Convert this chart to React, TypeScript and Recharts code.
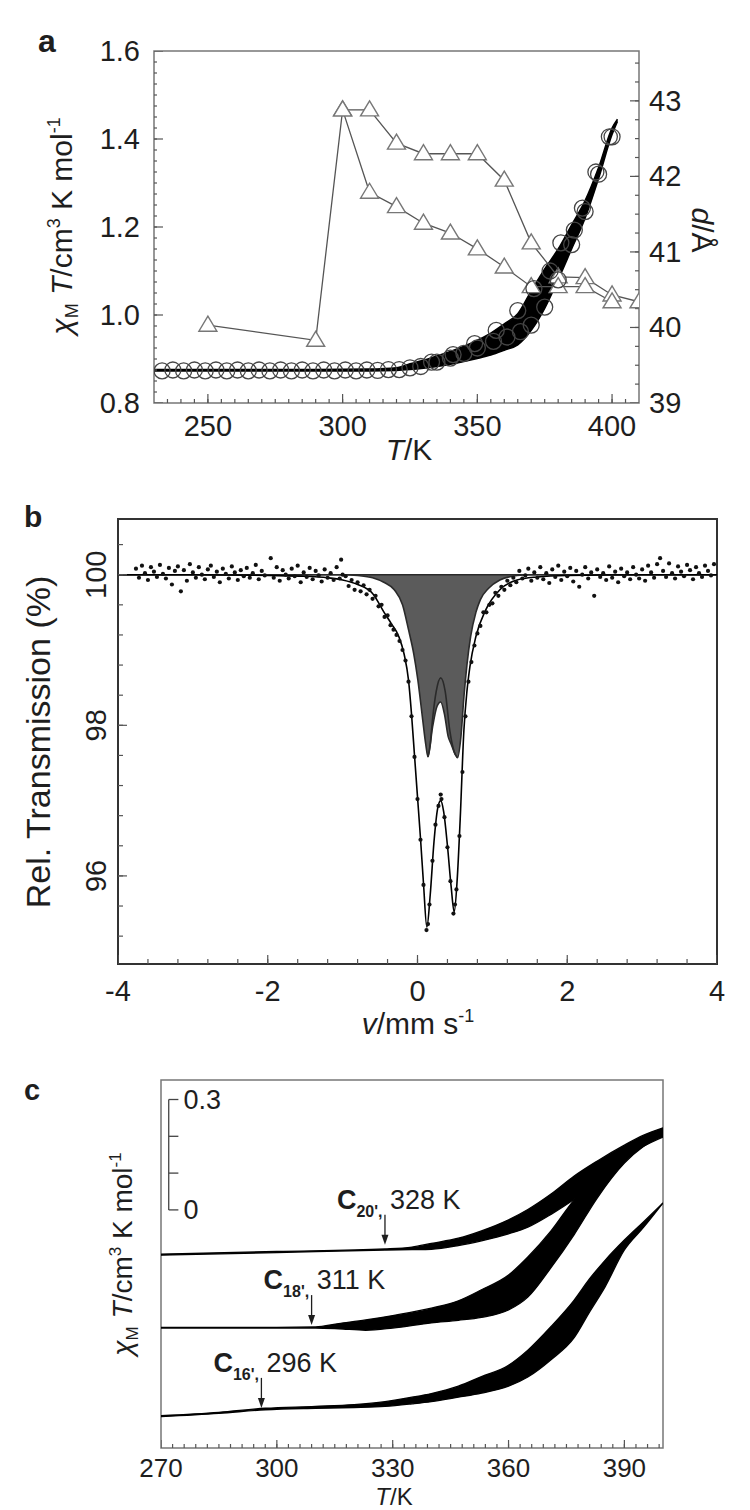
import React from 'react';
import {
  ComposedChart,
  Line,
  Area,
  Scatter,
  XAxis,
  YAxis,
  ReferenceArea,
  ReferenceLine,
} from 'recharts';

const FONT = '"Liberation Sans", Arial, Helvetica, sans-serif';
const INK = '#1e1e1e';

// ---------- panel a ----------
const aXTicks = [250, 300, 350, 400];
const aLTicks = [0.8, 1.0, 1.2, 1.4, 1.6];
const aRTicks = [39, 40, 41, 42, 43];

// d-spacing (right axis): the 300 K jump splits into two branches
const dUpT = [250, 290, 300, 310, 320, 330, 340, 350, 360, 370, 380, 390, 400, 410];
const dUp = [40.03, 39.83, 42.88, 42.88, 42.44, 42.3, 42.3, 42.3, 41.95, 41.12, 40.67, 40.66, 40.43, 40.34];
const dLowT = [300, 310, 320, 330, 340, 350, 360, 370, 380, 390, 400];
const dLow = [42.88, 41.79, 41.6, 41.38, 41.25, 41.04, 40.8, 40.54, 40.54, 40.54, 40.34];

// chi_M T open circles (left axis)
const chiAT = [233, 241, 249, 257, 265, 273, 281, 289, 297, 305, 313, 321, 329, 335, 340, 345, 350, 356, 361, 366, 370, 375, 380, 385, 390, 395, 400];
const chiA = [0.873, 0.873, 0.873, 0.873, 0.873, 0.873, 0.873, 0.873, 0.873, 0.873, 0.874, 0.876, 0.883, 0.893, 0.902, 0.913, 0.925, 0.94, 0.95, 0.962, 0.977, 1.018, 1.08, 1.16, 1.235, 1.32, 1.405];
const chiBT = [237, 245, 253, 261, 269, 277, 285, 293, 301, 309, 317, 325, 333, 341, 349, 357, 365, 371, 377, 381, 386, 389, 394, 399];
const chiB = [0.875, 0.875, 0.875, 0.875, 0.875, 0.875, 0.875, 0.875, 0.875, 0.875, 0.876, 0.88, 0.893, 0.91, 0.935, 0.965, 1.01, 1.06, 1.1, 1.164, 1.193, 1.243, 1.325, 1.405];

// dense sweep, drawn as a filled band
const bandT = [230, 250, 270, 290, 310, 320, 325, 330, 335, 340, 345, 350, 355, 360, 365, 370, 375, 380, 385, 390, 395, 400, 402];
const bandLo = [0.873, 0.873, 0.873, 0.873, 0.873, 0.874, 0.876, 0.879, 0.883, 0.888, 0.894, 0.901, 0.909, 0.92, 0.932, 0.965, 1.015, 1.08, 1.15, 1.22, 1.31, 1.41, 1.44];
const bandHi = [0.876, 0.876, 0.876, 0.876, 0.877, 0.88, 0.889, 0.897, 0.907, 0.917, 0.929, 0.943, 0.959, 0.98, 1.003, 1.055, 1.105, 1.15, 1.205, 1.26, 1.335, 1.425, 1.445];

// ---------- panel b ----------
const bXTicks = [-4, -2, 0, 2, 4];
const bYTicks = [96, 98, 100];

const fitV = [-4, -3, -2, -1.5, -1.2, -1.0, -0.8, -0.6, -0.44, -0.35, -0.25, -0.18, -0.12, -0.08, -0.04, 0, 0.04, 0.08, 0.125, 0.17, 0.22, 0.27, 0.31, 0.35, 0.4, 0.45, 0.49, 0.53, 0.57, 0.62, 0.66, 0.7, 0.78, 0.91, 1.1, 1.33, 1.6, 2, 3, 4];
const fit = [100, 100, 99.99, 99.98, 99.96, 99.93, 99.87, 99.75, 99.49, 99.35, 99.18, 98.95, 98.6, 98.15, 97.6, 97.05, 96.5, 95.9, 95.32, 95.75, 96.45, 96.9, 97.0, 96.85, 96.4, 95.85, 95.52, 95.95, 96.75, 97.94, 98.45, 98.78, 99.18, 99.53, 99.8, 99.93, 99.97, 99.99, 100, 100];

// shaded sub-spectrum (its lower edge)
const subV = [-4, -1.0, -0.8, -0.6, -0.45, -0.31, -0.2, -0.12, -0.05, 0.005, 0.07, 0.11, 0.14, 0.2, 0.26, 0.31, 0.36, 0.41, 0.45, 0.5, 0.535, 0.58, 0.62, 0.66, 0.71, 0.78, 0.84, 0.95, 1.1, 1.33, 1.5, 4];
const sub = [100, 100, 99.99, 99.96, 99.9, 99.8, 99.6, 99.27, 98.95, 98.6, 98.07, 97.75, 97.58, 97.97, 98.25, 98.31, 98.15, 97.85, 97.75, 97.62, 97.57, 97.85, 98.38, 98.8, 99.18, 99.5, 99.67, 99.82, 99.93, 99.99, 100, 100];

// second sub-spectrum outline drawn across the shading
const sub2V = [0.14, 0.17, 0.2, 0.25, 0.31, 0.37, 0.43, 0.49, 0.535];
const sub2 = [97.58, 97.75, 98.07, 98.45, 98.63, 98.45, 97.94, 97.65, 97.57];

const spectrum: [number, number][] = [
  [-3.76, 100.08], [-3.72, 99.96], [-3.68, 100.12], [-3.64, 100.02], [-3.6, 99.93], [-3.56, 100.1], [-3.52, 100.04], [-3.48, 99.97],
  [-3.44, 100.13], [-3.4, 100.01], [-3.36, 99.95], [-3.32, 100.09], [-3.28, 99.87], [-3.24, 100.05], [-3.2, 100.11], [-3.16, 99.78],
  [-3.12, 100.06], [-3.08, 99.92], [-3.04, 100.14], [-3.0, 100.03], [-2.96, 99.96], [-2.92, 100.1], [-2.88, 100.0], [-2.84, 99.94],
  [-2.8, 100.07], [-2.76, 100.12], [-2.72, 99.97], [-2.68, 100.04], [-2.64, 99.9], [-2.6, 100.08], [-2.56, 100.01], [-2.52, 99.95],
  [-2.48, 100.11], [-2.44, 100.03], [-2.4, 99.93], [-2.36, 100.06], [-2.32, 99.98], [-2.28, 100.09], [-2.24, 99.96], [-2.2, 100.02],
  [-2.16, 100.13], [-2.12, 99.94], [-2.08, 100.05], [-2.04, 99.99], [-1.96, 100.22], [-1.92, 99.96], [-1.88, 100.1], [-1.84, 99.92],
  [-1.8, 100.06], [-1.76, 100.0], [-1.72, 99.95], [-1.68, 100.08], [-1.64, 99.98], [-1.6, 100.12], [-1.56, 99.9], [-1.52, 100.03],
  [-1.48, 99.97], [-1.44, 100.09], [-1.4, 99.94], [-1.36, 100.05], [-1.32, 99.99], [-1.28, 99.91], [-1.24, 100.07], [-1.2, 99.96],
  [-1.16, 100.02], [-1.12, 99.93], [-1.08, 100.1], [-1.04, 99.95], [-1.02, 100.2], [-1.0, 100.0],
  [-0.96, 99.98], [-0.92, 99.85], [-0.88, 99.93], [-0.84, 99.8], [-0.8, 99.9], [-0.76, 99.78], [-0.72, 99.86], [-0.68, 99.74],
  [-0.64, 99.8], [-0.6, 99.68], [-0.56, 99.72], [-0.52, 99.58], [-0.48, 99.6], [-0.44, 99.44], [-0.4, 99.46], [-0.36, 99.33],
  [-0.32, 99.27], [-0.28, 99.2], [-0.24, 99.12], [-0.2, 99.0], [-0.16, 98.86], [-0.12, 98.58], [-0.08, 98.12], [-0.04, 97.58],
  [0, 97.02], [0.04, 96.48], [0.08, 95.88], [0.12, 95.28], [0.14, 95.36], [0.16, 95.62], [0.2, 96.2], [0.24, 96.68],
  [0.28, 96.93], [0.31, 97.08], [0.32, 97.02], [0.36, 96.78], [0.4, 96.38], [0.44, 95.93], [0.48, 95.5], [0.5, 95.62],
  [0.52, 95.82], [0.56, 96.53], [0.6, 97.38], [0.64, 98.12], [0.68, 98.58], [0.72, 98.84], [0.76, 99.06], [0.8, 99.22],
  [0.84, 99.32], [0.88, 99.5], [0.92, 99.5], [0.96, 99.6], [1.0, 99.62], [1.04, 99.76], [1.08, 99.72], [1.12, 99.84],
  [1.16, 99.8], [1.2, 99.92], [1.24, 99.86], [1.28, 99.96],
  [1.32, 99.9], [1.36, 100.05], [1.4, 99.95], [1.44, 99.99], [1.48, 100.08], [1.52, 99.92], [1.56, 100.03], [1.6, 99.96],
  [1.64, 100.1], [1.68, 99.94], [1.72, 100.02], [1.76, 99.89], [1.8, 100.07], [1.84, 99.97], [1.88, 100.12], [1.92, 99.93],
  [1.96, 100.04], [2.0, 99.98], [2.04, 100.09], [2.08, 99.91], [2.12, 100.05], [2.16, 99.84], [2.2, 100.0], [2.24, 100.1],
  [2.28, 99.95], [2.32, 100.03], [2.36, 99.72], [2.4, 100.07], [2.44, 99.97], [2.48, 100.02], [2.52, 99.93], [2.56, 100.11],
  [2.6, 99.96], [2.64, 100.04], [2.68, 99.9], [2.72, 100.08], [2.76, 99.98], [2.8, 100.03], [2.84, 99.94], [2.88, 100.1],
  [2.92, 100.0], [2.96, 99.95], [3.0, 100.07], [3.04, 99.92], [3.08, 100.12], [3.12, 100.03], [3.16, 99.96], [3.2, 100.14],
  [3.24, 100.22], [3.28, 100.05], [3.32, 99.97], [3.36, 100.15], [3.4, 100.02], [3.44, 99.95], [3.48, 100.11], [3.52, 100.04],
  [3.56, 99.98], [3.6, 100.13], [3.64, 100.06], [3.68, 99.94], [3.72, 100.1], [3.76, 100.02], [3.8, 99.97], [3.84, 100.12],
  [3.88, 100.05], [3.92, 99.99], [3.96, 100.14],
];

// ---------- panel c ----------
const cXTicks = [270, 300, 330, 360, 390];

const c20T = [270, 300, 328, 335, 340, 347, 353, 360, 365, 371, 377, 383, 390, 395, 400];
const c20Lo = [0.524, 0.531, 0.538, 0.539, 0.54, 0.55, 0.563, 0.582, 0.6, 0.635, 0.676, 0.725, 0.785, 0.82, 0.845];
const c20Hi = [0.527, 0.534, 0.541, 0.546, 0.556, 0.57, 0.59, 0.62, 0.648, 0.69, 0.739, 0.78, 0.823, 0.85, 0.87];

const c18T = [270, 300, 310, 316, 323, 330, 340, 347, 353, 360, 365, 371, 377, 383, 390, 395, 400];
const c18Lo = [0.326, 0.326, 0.326, 0.324, 0.32, 0.326, 0.34, 0.347, 0.355, 0.375, 0.41, 0.49, 0.58, 0.68, 0.774, 0.82, 0.85];
const c18Hi = [0.328, 0.328, 0.329, 0.338, 0.348, 0.36, 0.38, 0.4, 0.43, 0.47, 0.519, 0.59, 0.674, 0.735, 0.79, 0.825, 0.856];

const c16T = [270, 285, 297, 310, 320, 328, 335, 340, 347, 353, 360, 365, 371, 377, 381, 385, 390, 395, 400];
const c16Lo = [0.085, 0.094, 0.104, 0.108, 0.11, 0.113, 0.12, 0.126, 0.138, 0.149, 0.168, 0.193, 0.24, 0.3, 0.37, 0.438, 0.538, 0.6, 0.666];
const c16Hi = [0.088, 0.097, 0.108, 0.113, 0.118, 0.126, 0.138, 0.148, 0.168, 0.194, 0.225, 0.266, 0.33, 0.402, 0.46, 0.51, 0.565, 0.615, 0.666];

const calloutT = [328, 309, 296];
const calloutY = [0.552, 0.334, 0.109];
const calloutSub = ["20',", "18',", "16',"];
const calloutK = [328, 311, 296];

const scaleTicks = [0.647, 0.747, 0.847, 0.947];

// ---------- helpers ----------
const zip = (xs: number[], ys: number[]) => xs.map((x, i) => ({ x, y: ys[i] }));
const zipRange = (xs: number[], lo: number[], hi: number[]) => xs.map((x, i) => ({ x, r: [lo[i], hi[i]] }));
const steps = (a: number, b: number, s: number) => {
  const out: number[] = [];
  for (let v = a; v <= b + 1e-9; v += s) out.push(+v.toFixed(4));
  return out;
};
// tick positions along an edge of the frame, as points for a Scatter
const alongX = (ticks: number[], y: number) => ticks.map((x) => ({ x, y }));
const alongY = (ticks: number[], x: number) => ticks.map((y) => ({ x, y }));

const tickLabel =
  (fs: number, anchor: 'start' | 'middle' | 'end', dy: number, rotate = 0, fmt?: (v: number) => string) =>
  (p: any) => {
    const v = fmt ? fmt(p.payload.value) : String(p.payload.value);
    return (
      <text
        transform={`translate(${p.x},${p.y})${rotate ? ` rotate(${rotate})` : ''}`}
        textAnchor={anchor}
        dy={dy}
        fontSize={fs}
        fontFamily={FONT}
        fill={INK}
      >
        {v}
      </text>
    );
  };

const tickMark = (dx: number, dy: number) => (p: any) => (
  <line x1={p.cx} y1={p.cy} x2={p.cx + dx} y2={p.cy + dy} stroke="#555" strokeWidth={1.2} />
);

const OpenCircle = (p: any) => (
  <circle cx={p.cx} cy={p.cy} r={8} fill="none" stroke="#454545" strokeWidth={1.3} />
);
const Dot = (p: any) => <circle cx={p.cx} cy={p.cy} r={2.1} fill="#111" />;
const Tri = (p: any) => {
  if (p.cx == null || p.cy == null) return <g key={p.key} />;
  return (
    <path
      key={p.key}
      d={`M${p.cx},${p.cy - 9} L${p.cx + 9},${p.cy + 6} L${p.cx - 9},${p.cy + 6} Z`}
      fill="#fff"
      stroke="#777"
      strokeWidth={1.4}
    />
  );
};
const Callout = (p: any) => {
  const { cx, cy, payload } = p;
  return (
    <g>
      <line x1={cx} y1={cy - 30} x2={cx} y2={cy - 7} stroke={INK} strokeWidth={1.3} />
      <path d={`M${cx - 3.5},${cy - 10} L${cx + 3.5},${cy - 10} L${cx},${cy} Z`} fill={INK} />
      <text x={cx - 48} y={cy - 36} fontFamily={FONT} fontSize={27} fill={INK}>
        <tspan fontWeight="bold">C</tspan>
        <tspan fontWeight="bold" fontSize={16} dy={8}>{payload.sub}</tspan>
        <tspan dy={-8}> {payload.k} K</tspan>
      </text>
    </g>
  );
};

const ticksSeries = (data: { x: number; y: number }[], shape: any, yAxisId?: string) => (
  <Scatter yAxisId={yAxisId} data={data} dataKey="y" shape={shape} isAnimationActive={false} />
);

const overlay: React.CSSProperties = { position: 'absolute', left: 0, top: 0, pointerEvents: 'none', overflow: 'visible' };

// ---------- panels ----------
const PanelA = () => {
  const xd = [230, 410];
  const ld = [0.8, 1.6];
  const rd = [39, 43.66];
  return (
    <div style={{ position: 'absolute', left: 0, top: 0, width: 750, height: 480 }}>
      <ComposedChart width={750} height={480} margin={{ top: 51, right: 51, bottom: 37, left: 94 }}>
        <XAxis type="number" dataKey="x" domain={xd} allowDataOverflow ticks={aXTicks} interval={0} height={40}
          axisLine={false} tickLine={false} tickSize={0} tickMargin={12} tick={tickLabel(29, 'middle', 21)} />
        <YAxis yAxisId="L" type="number" domain={ld} allowDataOverflow ticks={aLTicks} interval={0} width={60}
          axisLine={false} tickLine={false} tickSize={0} tickMargin={14}
          tick={tickLabel(29, 'end', 10, 0, (v) => v.toFixed(1))} />
        <YAxis yAxisId="R" orientation="right" type="number" domain={rd} allowDataOverflow ticks={aRTicks} interval={0}
          width={60} axisLine={false} tickLine={false} tickSize={0} tickMargin={10} tick={tickLabel(29, 'start', 10)} />
        <ReferenceArea yAxisId="L" x1={230} x2={410} y1={0.8} y2={1.6} fill="none" stroke="#777" strokeWidth={1.5} ifOverflow="visible" />
        {ticksSeries(alongX(steps(235, 405, 5), 0.8), tickMark(0, -4), 'L')}
        {ticksSeries(alongX(aXTicks, 0.8), tickMark(0, -9), 'L')}
        {ticksSeries(alongY(steps(0.825, 1.575, 0.025), 230), tickMark(3, 0), 'L')}
        {ticksSeries(alongY(aLTicks, 230), tickMark(9, 0), 'L')}
        {ticksSeries(alongY(steps(39.25, 43.5, 0.25), 410), tickMark(-4, 0), 'R')}
        {ticksSeries(alongY(aRTicks, 410), tickMark(-9, 0), 'R')}
        <Line yAxisId="R" data={zip(dUpT, dUp)} dataKey="y" type="linear" stroke="#555" strokeWidth={1.3} dot={Tri} isAnimationActive={false} />
        <Line yAxisId="R" data={zip(dLowT, dLow)} dataKey="y" type="linear" stroke="#555" strokeWidth={1.3} dot={Tri} isAnimationActive={false} />
        <Scatter yAxisId="L" data={zip(chiAT, chiA)} dataKey="y" shape={OpenCircle} isAnimationActive={false} />
        <Scatter yAxisId="L" data={zip(chiBT, chiB)} dataKey="y" shape={OpenCircle} isAnimationActive={false} />
        <Area yAxisId="L" data={zipRange(bandT, bandLo, bandHi)} dataKey="r" type="monotone" fill="#000" fillOpacity={1}
          stroke="#000" strokeWidth={1.5} dot={false} isAnimationActive={false} />
      </ComposedChart>
      <svg width={750} height={480} style={overlay} fontFamily={FONT} fill={INK}>
        <text x={38} y={52} fontSize={32} fontWeight="bold">a</text>
        <text transform="translate(72,226) rotate(-90)" textAnchor="middle" fontSize={30}>
          <tspan fontStyle="italic">χ</tspan>
          <tspan fontSize={18} dy={6}>M</tspan>
          <tspan dy={-6}> </tspan>
          <tspan fontStyle="italic">T</tspan>
          <tspan>/cm</tspan>
          <tspan fontSize={18} dy={-12}>3</tspan>
          <tspan dy={12}> K mol</tspan>
          <tspan fontSize={18} dy={-12}>-1</tspan>
        </text>
        <text transform="translate(692,230) rotate(90)" textAnchor="middle" fontSize={30}>
          <tspan fontStyle="italic">d</tspan>
          <tspan>/Å</tspan>
        </text>
        <text x={409} y={460} textAnchor="middle" fontSize={30}>
          <tspan fontStyle="italic">T</tspan>
          <tspan>/K</tspan>
        </text>
      </svg>
    </div>
  );
};

const PanelB = () => {
  const xd = [-4, 4];
  const yd = [94.83, 100.74];
  return (
    <div style={{ position: 'absolute', left: 0, top: 480, width: 750, height: 560 }}>
      <ComposedChart width={750} height={560} margin={{ top: 39, right: 33, bottom: 36, left: 58 }}>
        <XAxis type="number" dataKey="x" domain={xd} allowDataOverflow ticks={bXTicks} interval={0} height={40}
          axisLine={false} tickLine={false} tickSize={0} tickMargin={16} tick={tickLabel(29, 'middle', 21)} />
        <YAxis type="number" domain={yd} allowDataOverflow ticks={bYTicks} interval={0} width={60}
          axisLine={false} tickLine={false} tickSize={0} tickMargin={12} tick={tickLabel(29, 'middle', 0, -90)} />
        <ReferenceArea x1={-4} x2={4} y1={94.83} y2={100.74} fill="none" stroke="#333" strokeWidth={2} ifOverflow="visible" />
        {ticksSeries(alongX(steps(-3.6, 3.6, 0.4), 94.83), tickMark(0, -5))}
        {ticksSeries(alongX(bXTicks, 94.83), tickMark(0, -9))}
        {ticksSeries(alongY(steps(95.2, 100.4, 0.4), -4), tickMark(5, 0))}
        {ticksSeries(alongY(bYTicks, -4), tickMark(9, 0))}
        <Area data={subV.map((x, i) => ({ x, r: [sub[i], 100] }))} dataKey="r" type="monotone" fill="#5b5b5b" fillOpacity={1}
          stroke="#2a2a2a" strokeWidth={1.6} dot={false} isAnimationActive={false} />
        <Line data={zip(sub2V, sub2)} dataKey="y" type="monotone" stroke="#2a2a2a" strokeWidth={1.6} dot={false} isAnimationActive={false} />
        <Line data={zip(fitV, fit)} dataKey="y" type="monotone" stroke="#000" strokeWidth={1.6} dot={false} isAnimationActive={false} />
        <Scatter data={spectrum.map(([x, y]) => ({ x, y }))} dataKey="y" shape={Dot} isAnimationActive={false} />
      </ComposedChart>
      <svg width={750} height={560} style={overlay} fontFamily={FONT} fill={INK}>
        <text x={24} y={47} fontSize={30} fontWeight="bold">b</text>
        <text transform="translate(50,262) rotate(-90)" textAnchor="middle" fontSize={34}>Rel. Transmission (%)</text>
        <text x={418} y={554} textAnchor="middle" fontSize={30}>
          <tspan fontStyle="italic">v</tspan>
          <tspan>/mm s</tspan>
          <tspan fontSize={18} dy={-12}>-1</tspan>
        </text>
      </svg>
    </div>
  );
};

const PanelC = () => {
  const xd = [270, 400];
  const yd = [0, 1];
  const callouts = calloutT.map((x, i) => ({ x, y: calloutY[i], sub: calloutSub[i], k: calloutK[i] }));
  const curve = (t: number[], lo: number[], hi: number[], key: string) => (
    <Area key={key} data={zipRange(t, lo, hi)} dataKey="r" type="monotone" fill="#000" fillOpacity={1}
      stroke="#000" strokeWidth={1.3} dot={false} isAnimationActive={false} />
  );
  return (
    <div style={{ position: 'absolute', left: 0, top: 1040, width: 750, height: 470 }}>
      <ComposedChart width={750} height={470} margin={{ top: 40, right: 87, bottom: 22, left: 161 }}>
        <XAxis type="number" dataKey="x" domain={xd} allowDataOverflow ticks={cXTicks} interval={0} height={40}
          axisLine={false} tickLine={false} tickSize={0} tickMargin={10} tick={tickLabel(26, 'middle', 19)} />
        <YAxis type="number" domain={yd} allowDataOverflow hide />
        <ReferenceArea x1={270} x2={400} y1={0} y2={1} fill="none" stroke="#777" strokeWidth={1.5} ifOverflow="visible" />
        {ticksSeries(alongX(steps(273, 399, 3), 0), tickMark(0, -4))}
        {ticksSeries(alongX(cXTicks, 0), tickMark(0, -8))}
        <ReferenceLine segment={[{ x: 272, y: scaleTicks[0] }, { x: 272, y: scaleTicks[3] }]} stroke="#444" strokeWidth={1.3} />
        {scaleTicks.map((t, i) => (
          <ReferenceLine key={t} segment={[{ x: 272, y: t }, { x: 274.5, y: t }]} stroke="#444" strokeWidth={1.3}
            label={i === 0 || i === 3 ? { value: i === 0 ? '0' : '0.3', position: 'right', offset: 5, fill: INK, fontSize: 27, fontFamily: FONT } : undefined} />
        ))}
        {curve(c20T, c20Lo, c20Hi, 'c20')}
        {curve(c18T, c18Lo, c18Hi, 'c18')}
        {curve(c16T, c16Lo, c16Hi, 'c16')}
        <Scatter data={callouts} dataKey="y" shape={Callout} isAnimationActive={false} />
      </ComposedChart>
      <svg width={750} height={470} style={overlay} fontFamily={FONT} fill={INK}>
        <text x={24} y={60} fontSize={29} fontWeight="bold">c</text>
        <text transform="translate(132,214) rotate(-90)" textAnchor="middle" fontSize={28}>
          <tspan fontStyle="italic">χ</tspan>
          <tspan fontSize={17} dy={6}>M</tspan>
          <tspan dy={-6}> </tspan>
          <tspan fontStyle="italic">T</tspan>
          <tspan>/cm</tspan>
          <tspan fontSize={17} dy={-11}>3</tspan>
          <tspan dy={11}> K mol</tspan>
          <tspan fontSize={17} dy={-11}>-1</tspan>
        </text>
        <text x={394} y={465} textAnchor="middle" fontSize={24}>
          <tspan fontStyle="italic">T</tspan>
          <tspan>/K</tspan>
        </text>
      </svg>
    </div>
  );
};

export default function App() {
  return (
    <div style={{ position: 'absolute', left: 0, top: 0, width: 750, height: 1510, background: '#fff', overflow: 'hidden' }}>
      <PanelA />
      <PanelB />
      <PanelC />
    </div>
  );
}
